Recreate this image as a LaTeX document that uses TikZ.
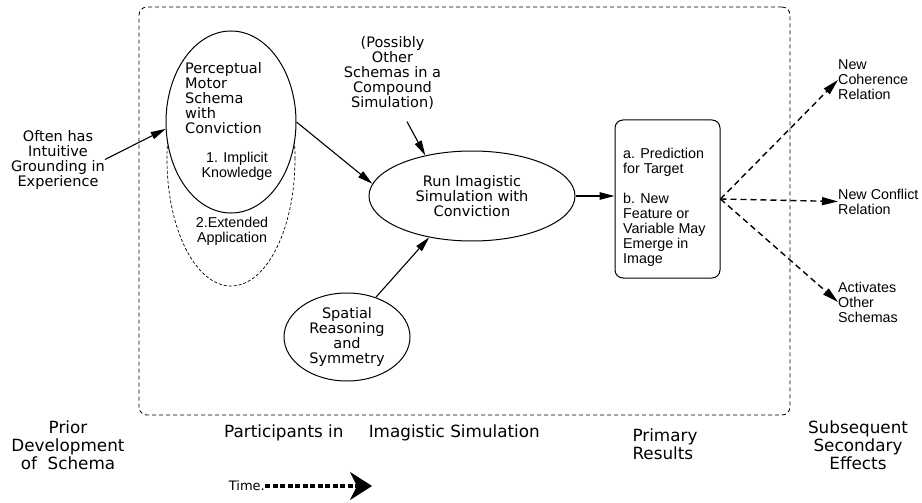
\documentclass[tikz,border=0pt]{standalone}
\usepackage{fontspec}
\setmainfont{DejaVu Sans}
\newfontfamily\lib{Liberation Sans}
\usetikzlibrary{arrows.meta,shapes.geometric}
\begin{document}
\begin{tikzpicture}[x=1pt,y=-1pt,
 dv/.style={font=\fontsize{14.5}{15}\selectfont, inner sep=0pt},
 lb/.style={font=\lib\fontsize{14.3}{15}\selectfont, inner sep=0pt},
 big/.style={font=\fontsize{16.8}{18}\selectfont, inner sep=0pt},
 arr/.style={line width=1.1pt, -{Triangle[length=15pt,width=7.5pt]}},
 darr/.style={line width=1.4pt, dash pattern=on 6pt off 4pt, -{Triangle[length=16pt,width=8pt]}},
 oval/.style={ellipse, draw, line width=1pt, fill=white, inner sep=0pt},
]
\useasboundingbox (0,0) rectangle (922,503);
\node[draw, dash pattern=on 4pt off 3pt, line width=0.8pt, rounded corners=8pt,
      minimum width=651pt, minimum height=408pt, inner sep=0pt] (frame) at (464.5,211) {};
\node[ellipse, draw, dash pattern=on 3pt off 2pt, line width=0.7pt, minimum width=128pt,
      minimum height=254pt, inner sep=0pt] (ext) at (231,159) {};
\node[oval, minimum width=130pt, minimum height=182pt] (pms) at (231,122) {};
\node[dv, align=left, anchor=west] (pmstext) at (185,98.5) {Perceptual\\Motor\\Schema\\with\\Conviction};
\node[lb, align=center] (impl) at (237,166.5) {1. Implicit\\Knowledge};
\node[lb, align=center] (extt) at (232,231.5) {2.Extended\\Application};
\node[dv, align=center] (often) at (58,159.5) {Often has\\Intuitive\\Grounding in\\Experience};
\node[dv, align=center] (poss) at (392.5,72.5) {(Possibly\\Other\\Schemas in a\\Compound\\Simulation)};
\node[oval, minimum width=206pt, minimum height=90pt, dv, align=center] (run) at (472,196) {Run Imagistic\\Simulation with\\Conviction};
\node[oval, minimum width=126pt, minimum height=88pt, dv, align=center] (spat) at (347,337) {Spatial\\Reasoning\\and\\Symmetry};
\node[draw, line width=1pt, rounded corners=8pt, minimum width=105pt, minimum height=158pt, inner sep=0pt] (box) at (667.5,199) {};
\node[lb, align=left, anchor=west] (boxt) at (623,207) {a. Prediction\\for Target\\[15pt]b. New\\Feature or\\Variable May\\Emerge in\\Image};
\node[lb, align=left, anchor=west] (coh) at (838,80) {New\\Coherence\\Relation};
\node[lb, align=left, anchor=west] (conf) at (838,201.5) {New Conflict\\Relation};
\node[lb, align=left, anchor=west] (act) at (838,302) {Activates\\Other\\Schemas};
\node[big, align=center] (prior) at (68,445) {Prior\\Development\\of\ \ Schema};
\node[big] (part) at (382,433) {Participants in\hspace{1.5em}Imagistic Simulation};
\node[big, align=left] (prim) at (665,444) {Primary\\Results};
\node[big, align=center] (subs) at (858,445) {Subsequent\\Secondary\\Effects};
\node[font=\fontsize{13}{14}\selectfont, inner sep=0pt, anchor=east] (time) at (265,486) {Time.};
\coordinate (tend) at (372,486);
\draw[line width=3.5pt, dash pattern=on 5pt off 2.5pt,
      -{Stealth[length=22pt,width=28pt,inset=7pt,line width=0.5pt]}] (time.east) -- (tend);
\draw[arr] (often.east) -- (pms.186);
\draw[arr] (pms.east) -- (run.173);
\draw[arr] ([shift={(14.5,12.5)}]poss.south) -- (run.139);
\draw[arr] (spat.54) -- (run.224);
\draw[arr] (run.east) -- (run.east -| box.west);
\draw[darr] (box.east) -- (coh.west);
\draw[darr] (box.east) -- (conf.west);
\draw[darr] (box.east) -- (act.west);
\end{tikzpicture}
\end{document}
